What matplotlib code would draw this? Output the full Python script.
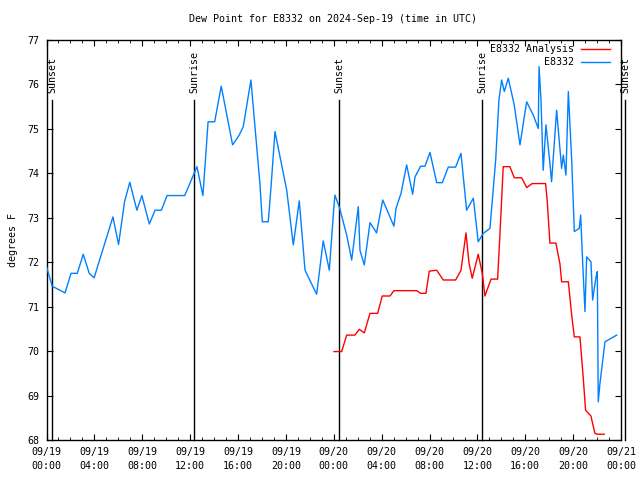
import datetime as dt

import matplotlib
matplotlib.use('Agg')
import matplotlib.pyplot as plt
import matplotlib.dates as mdates
import matplotlib.transforms as mtrans

# ===== data (hours after 2024-09-19 00:00 UTC, deg F)
obs_hours = [0.0, 0.48, 0.98, 1.55, 2.05, 2.57, 3.07, 3.57, 3.98, 5.55,
             6.02, 6.52, 6.96, 7.55, 7.97, 8.59, 9.07, 9.6, 10.07, 11.55,
             12.57, 13.07, 13.5, 14.05, 14.6, 15.55, 16.1, 16.44, 17.08,
             17.84, 18.03, 18.53, 18.76, 19.09, 20.07, 20.62, 21.12, 21.6,
             22.57, 23.12, 23.63, 24.0, 24.1, 24.5, 25.08, 25.5, 26.05,
             26.19, 26.55, 27.03, 27.58, 28.09, 29.03, 29.2, 29.62, 30.09,
             30.59, 30.79, 31.26, 31.62, 32.04, 32.6, 33.07, 33.57, 34.18,
             34.63, 35.1, 35.66, 36.07, 36.49, 37.05, 37.53, 37.8, 38.03,
             38.25, 38.58, 39.08, 39.56, 39.92, 40.12, 40.67, 41.09, 41.15,
             41.31, 41.5, 41.73, 42.06, 42.2, 42.62, 43.04, 43.18, 43.4,
             43.6, 43.88, 44.1, 44.51, 44.63, 44.8, 44.99, 45.13, 45.49,
             45.63, 45.91, 46.02, 46.1, 46.24, 46.66, 47.64]
obs_dewp = [71.9, 71.46, 71.39, 71.31, 71.75, 71.75, 72.18, 71.75, 71.65,
            73.02, 72.4, 73.36, 73.8, 73.17, 73.5, 72.86, 73.17, 73.17, 73.5,
            73.5, 74.15, 73.5, 75.16, 75.16, 75.96, 74.64, 74.86, 75.05,
            76.1, 73.74, 72.91, 72.91, 73.7, 74.94, 73.62, 72.39, 73.38,
            71.82, 71.28, 72.48, 71.82, 73.2, 73.51, 73.21, 72.61, 72.05,
            73.25, 72.27, 71.94, 72.89, 72.66, 73.4, 72.81, 73.21, 73.55,
            74.19, 73.53, 73.92, 74.16, 74.16, 74.47, 73.79, 73.79, 74.14,
            74.14, 74.45, 73.17, 73.44, 72.46, 72.65, 72.76, 74.3, 75.65,
            76.1, 75.84, 76.14, 75.54, 74.64, 75.27, 75.61, 75.31, 75.01,
            76.4, 75.69, 74.07, 75.09, 74.23, 73.81, 75.42, 74.11, 74.41,
            73.96, 75.84, 74.3, 72.69, 72.76, 73.06, 71.98, 70.89, 72.12,
            72.01, 71.15, 71.67, 71.79, 68.86, 69.27, 70.21, 70.36]

ana_hours = [24.02, 24.66, 25.08, 25.77, 26.13, 26.55, 27.03, 27.67, 28.05,
             28.7, 29.03, 30.93, 31.26, 31.7, 31.98, 32.6, 33.15, 34.18,
             34.63, 35.05, 35.3, 35.57, 36.07, 36.41, 36.63, 37.14, 37.69,
             37.89, 38.16, 38.72, 39.08, 39.7, 40.12, 40.58, 41.7, 41.84,
             42.06, 42.56, 42.9, 43.04, 43.6, 43.88, 44.1, 44.57, 44.84,
             45.04, 45.49, 45.63, 45.82, 46.0, 46.6]
ana_dewp = [69.99, 69.99, 70.36, 70.36, 70.49, 70.41, 70.85, 70.85, 71.24,
            71.24, 71.36, 71.36, 71.3, 71.3, 71.8, 71.82, 71.6, 71.6, 71.82,
            72.66, 71.98, 71.64, 72.18, 71.75, 71.24, 71.62, 71.62, 72.65,
            74.15, 74.15, 73.9, 73.9, 73.68, 73.77, 73.77, 73.36, 72.43,
            72.43, 71.96, 71.56, 71.56, 70.81, 70.32, 70.32, 69.42, 68.67,
            68.54, 68.37, 68.15, 68.13, 68.13]

sun_hours = [0.47, 12.34, 24.45, 36.4, 48.35]
sun_labels = ['Sunset', 'Sunrise', 'Sunset', 'Sunrise', 'Sunset']

t0 = dt.datetime(2024, 9, 19)


def to_time(hours):
    return [t0 + dt.timedelta(hours=h) for h in hours]


font = 'DejaVu Sans Mono'
fsize = 7.2
plt.rcParams['font.family'] = font
plt.rcParams['font.size'] = fsize

fig = plt.figure(figsize=(6.4, 4.8), dpi=100)
ax = fig.add_axes([46.5 / 640, 40 / 480, 574.5 / 640, 400 / 480])

# ===== sunrise / sunset markers
trans = mtrans.blended_transform_factory(ax.transData, ax.transAxes)
for h, lab in zip(sun_hours, sun_labels):
    x = mdates.date2num(t0 + dt.timedelta(hours=h))
    ax.plot([x, x], [0, 0.85], color='black', lw=1.0, transform=trans,
            clip_on=False, zorder=1)
    ax.text(x, 0.8675, lab, rotation=90, ha='center', va='bottom',
            transform=trans, fontsize=fsize, clip_on=False)

# ===== data lines
ax.plot(to_time(ana_hours), ana_dewp, color='#ff0000', lw=1.0, zorder=3)
ax.plot(to_time(obs_hours), obs_dewp, color='#0080ff', lw=1.0, zorder=3)

# ===== legend, drawn by hand so the labels sit right aligned
legend_rows = [('E8332 Analysis', '#ff0000', 0.9775),
               ('E8332', '#0080ff', 0.9445)]
for lab, col, yy in legend_rows:
    ax.text(0.918, yy, lab, ha='right', va='center', transform=ax.transAxes,
            fontsize=fsize)
    ax.plot([0.931, 0.980], [yy, yy], color=col, lw=1.0,
            transform=ax.transAxes, clip_on=False)

# ===== axes
ax.set_xlim(t0, t0 + dt.timedelta(hours=48))
ax.set_ylim(68, 77)
ax.xaxis.set_major_locator(mdates.HourLocator(byhour=range(0, 24, 4)))
ax.xaxis.set_minor_locator(mdates.HourLocator())
ax.xaxis.set_major_formatter(mdates.DateFormatter('%m/%d\n%H:%M'))
ax.set_yticks(range(68, 78))

ax.tick_params(which='both', direction='in', top=True, right=True,
               labelsize=fsize)
ax.tick_params(axis='x', which='major', length=4.5, pad=5)
ax.tick_params(axis='x', which='minor', length=2.5)
ax.tick_params(axis='y', which='major', length=4.5, pad=5)
for sp in ax.spines.values():
    sp.set_linewidth(1.0)

fig.canvas.draw()
for lbl in ax.get_xticklabels():
    lbl.set_linespacing(1.5)

ax.set_ylabel('degrees F', fontsize=fsize, labelpad=7)
fig.text(0.52, 1 - 19 / 480, 'Dew Point for E8332 on 2024-Sep-19 (time in UTC)',
         ha='center', va='center', fontsize=fsize)

fig.savefig('out.png', dpi=100)
plt.close()
